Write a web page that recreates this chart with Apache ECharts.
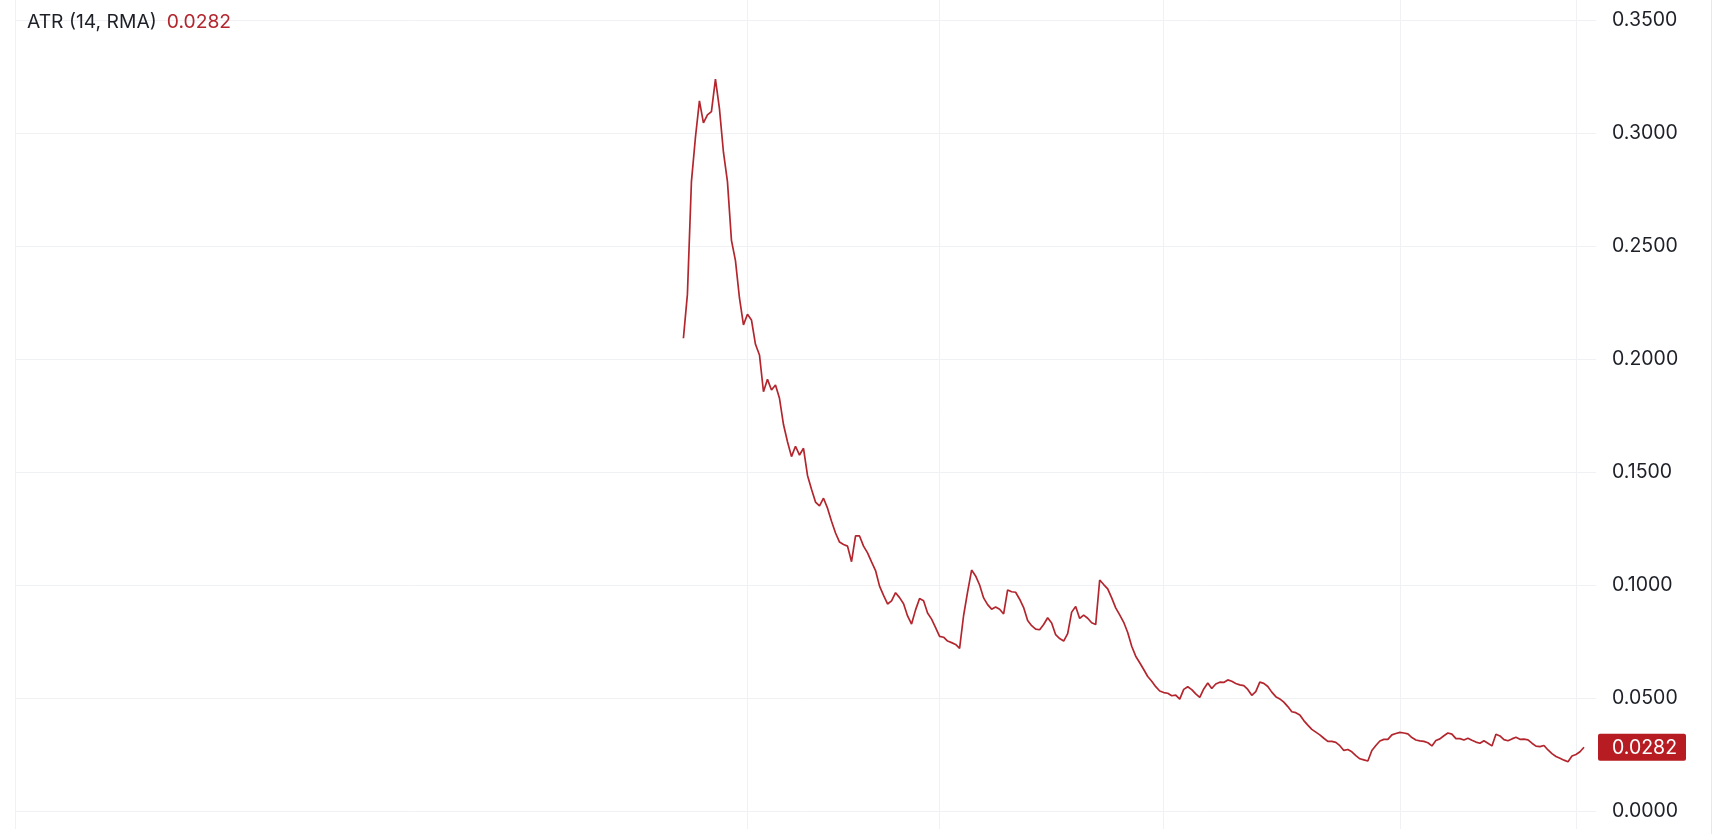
<!DOCTYPE html>
<html>
<head>
<meta charset="utf-8">
<script src="https://cdn.jsdelivr.net/npm/echarts@6/dist/echarts.min.js"></script>
<style>
html,body{margin:0;padding:0;background:#fff;}
#main{width:1724px;height:834px;}
</style>
</head>
<body>
<div id="main"></div>
<script>
// ---- data ----
const indicatorName = 'ATR (14, RMA)';
const barCount = 396;               // bars on the visible time axis
const firstValueBar = 167;          // first bar that has an ATR value
const categories = Array.from({length: barCount}, (_, i) => 'Bar ' + (i + 1));
const timeGridBars = [0, 183, 231, 287, 346, 390];
const yTicks = [0, 0.05, 0.10, 0.15, 0.20, 0.25, 0.30, 0.35];
const atrValues = [
  0.2092, 0.2287, 0.2785, 0.2980, 0.3142, 0.3045, 0.3080, 0.3095, 0.3238, 0.3108,
  0.2915, 0.2785, 0.2525, 0.2435, 0.2270, 0.2151, 0.2198, 0.2173, 0.2065, 0.2018,
  0.1855, 0.1910, 0.1863, 0.1885, 0.1826, 0.1710, 0.1634, 0.1568, 0.1614, 0.1575,
  0.1605, 0.1485, 0.1424, 0.1367, 0.1350, 0.1384, 0.1340, 0.1282, 0.1230, 0.1190,
  0.1179, 0.1172, 0.1103, 0.1217, 0.1217, 0.1172, 0.1142, 0.1102, 0.1064, 0.0995,
  0.0954, 0.0916, 0.0930, 0.0966, 0.0944, 0.0917, 0.0863, 0.0827, 0.0890, 0.0940,
  0.0930, 0.0876, 0.0849, 0.0811, 0.0773, 0.0769, 0.0752, 0.0745, 0.0737, 0.0720,
  0.0865, 0.0970, 0.1066, 0.1040, 0.1000, 0.0943, 0.0913, 0.0893, 0.0903, 0.0893,
  0.0872, 0.0978, 0.0970, 0.0968, 0.0937, 0.0900, 0.0843, 0.0820, 0.0805, 0.0802,
  0.0825, 0.0855, 0.0832, 0.0780, 0.0763, 0.0752, 0.0785, 0.0880, 0.0905, 0.0852,
  0.0867, 0.0853, 0.0833, 0.0825, 0.1022, 0.1002, 0.0983, 0.0943, 0.0899, 0.0868,
  0.0835, 0.0790, 0.0729, 0.0685, 0.0656, 0.0626, 0.0595, 0.0574, 0.0550, 0.0531,
  0.0524, 0.0521, 0.0510, 0.0513, 0.0495, 0.0538, 0.0550, 0.0537, 0.0518, 0.0503,
  0.0540, 0.0566, 0.0542, 0.0562, 0.0570, 0.0569, 0.0580, 0.0574, 0.0564, 0.0558,
  0.0555, 0.0538, 0.0512, 0.0528, 0.0570, 0.0565, 0.0551, 0.0526, 0.0506, 0.0496,
  0.0482, 0.0462, 0.0439, 0.0435, 0.0425, 0.0400, 0.0380, 0.0361, 0.0349, 0.0337,
  0.0322, 0.0308, 0.0308, 0.0304, 0.0289, 0.0268, 0.0272, 0.0262, 0.0245, 0.0231,
  0.0226, 0.0221, 0.0268, 0.0290, 0.0310, 0.0317, 0.0317, 0.0337, 0.0343, 0.0348,
  0.0345, 0.0341, 0.0325, 0.0314, 0.0310, 0.0308, 0.0302, 0.0288, 0.0312, 0.0319,
  0.0333, 0.0345, 0.0340, 0.0320, 0.0320, 0.0314, 0.0322, 0.0313, 0.0305, 0.0300,
  0.0311, 0.0300, 0.0288, 0.0340, 0.0332, 0.0316, 0.0311, 0.0319, 0.0326, 0.0317,
  0.0318, 0.0315, 0.0300, 0.0287, 0.0285, 0.0290, 0.0270, 0.0254, 0.0241, 0.0233,
  0.0225, 0.0218, 0.0243, 0.0250, 0.0262, 0.0282
];
const lastValue = 0.0282;

// ---- build ----
const seriesData = categories.map((c, i) => {
  const k = i - firstValueBar;
  return (k >= 0 && k < atrValues.length) ? atrValues[k] : '-';
});

const lineColor = '#b3262e';
const gridColor = '#f0f1f4';
const textColor = '#1e2028';
const fontFamily = 'Inter, "Noto Sans", Roboto, sans-serif';
const labelFontSize = 19.5;

const chart = echarts.init(document.getElementById('main'), null, {renderer: 'canvas'});
chart.setOption({
  animation: false,
  backgroundColor: '#ffffff',
  title: {
    left: 27,
    top: 11,
    padding: 0,
    text: '{a|' + indicatorName + '}  {b|' + lastValue.toFixed(4) + '}',
    textStyle: {
      fontWeight: 'normal',
      rich: {
        a: {color: textColor, fontSize: 19.3, fontWeight: 'normal', fontFamily: fontFamily, lineHeight: 22},
        b: {color: lineColor, fontSize: 19.3, fontWeight: 'normal', fontFamily: fontFamily, lineHeight: 22}
      }
    }
  },
  grid: [
    {left: 15, right: 128, top: 0, bottom: 5},
    {left: 15, right: 128, top: 20, bottom: 23}
  ],
  xAxis: [
    {
      gridIndex: 0, type: 'category', data: categories, boundaryGap: false,
      axisLine: {show: false}, axisTick: {show: false}, axisLabel: {show: false},
      splitLine: {show: true, interval: (idx) => timeGridBars.includes(idx),
        lineStyle: {color: gridColor, width: 1}}
    },
    {
      gridIndex: 1, type: 'category', data: categories, boundaryGap: false,
      axisLine: {show: false}, axisTick: {show: false}, axisLabel: {show: false},
      splitLine: {show: false}
    }
  ],
  yAxis: [
    {gridIndex: 0, type: 'value', min: 0, max: 1, show: false},
    {
      gridIndex: 1, type: 'value', position: 'right',
      min: yTicks[0], max: yTicks[yTicks.length - 1], interval: yTicks[1] - yTicks[0],
      axisLine: {show: false}, axisTick: {show: false},
      axisLabel: {margin: 16, color: textColor, fontSize: labelFontSize, fontFamily: fontFamily,
        padding: [3, 0, 0, 0],
        formatter: (v) => v.toFixed(4)},
      splitLine: {show: true, lineStyle: {color: gridColor, width: 1}}
    }
  ],
  series: [{
    type: 'line',
    xAxisIndex: 1, yAxisIndex: 1,
    data: seriesData,
    showSymbol: false,
    connectNulls: false,
    lineStyle: {color: lineColor, width: 1.7}
  }]
});

// last-value badge on the price scale, placed through the axis scale
const yPix = chart.convertToPixel({yAxisIndex: 1}, lastValue);
const xEdge = chart.convertToPixel({xAxisIndex: 1}, categories.length - 1);
chart.setOption({
  graphic: [
    {
      type: 'line', silent: true,
      shape: {x1: 1711.5, y1: 0, x2: 1711.5, y2: 834},
      style: {stroke: '#e6e8ec', lineWidth: 1}
    },
    {
      type: 'rect', silent: true,
      shape: {x: xEdge + 2, y: yPix - 13.5, width: 88, height: 27, r: 2},
      style: {fill: '#b71c22'}
    },
    {
      type: 'text', silent: true,
      x: xEdge + 16, y: yPix + 1,
      style: {text: lastValue.toFixed(4), fill: '#ffffff', fontSize: labelFontSize,
        fontFamily: fontFamily, textVerticalAlign: 'middle', textAlign: 'left'}
    }
  ]
});
</script>
</body>
</html>
